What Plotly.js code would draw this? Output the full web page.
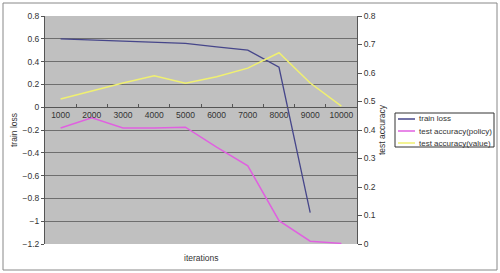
<!DOCTYPE html>
<html>
<head>
<meta charset="utf-8">
<script src="https://cdn.plot.ly/plotly-3.0.1.min.js"></script>
<style>
html,body{margin:0;padding:0;background:#fff;}
#chart{width:500px;height:273px;}
</style>
</head>
<body>
<div id="chart"></div>
<script>
// Data
const iterations = ['1000','2000','3000','4000','5000','6000','7000','8000','9000','10000'];
const trainLoss = [0.60, 0.59, 0.58, 0.57, 0.56, 0.53, 0.50, 0.35, -0.925, null];
const testAccPolicy = [0.407, 0.443, 0.407, 0.407, 0.41, 0.34, 0.274, 0.082, 0.01, 0.002];
const testAccValue = [0.509, 0.537, 0.565, 0.59, 0.564, 0.587, 0.617, 0.671, 0.565, 0.484];
const seriesNames = ['train loss', 'test accuracy(policy)', 'test accuracy(value)'];
const seriesColors = ['#46468a', '#e060e0', '#f0f070'];

const FONT = 'Liberation Sans, Arial, sans-serif';
const TXT = '#333';
const W = 500, H = 273;
const L = 45, R = 143, T = 16, B = 29;
const pw = W - L - R, ph = H - T - B;
function px(x){ return (x - L) / pw; }
function py(y){ return (H - B - y) / ph; }

const traces = [
  {x: iterations, y: trainLoss, name: seriesNames[0], type: 'scatter', mode: 'lines',
   line: {color: seriesColors[0], width: 1.3}, yaxis: 'y', connectgaps: false},
  {x: iterations, y: testAccPolicy, name: seriesNames[1], type: 'scatter', mode: 'lines',
   line: {color: seriesColors[1], width: 1.5}, yaxis: 'y2'},
  {x: iterations, y: testAccValue, name: seriesNames[2], type: 'scatter', mode: 'lines',
   line: {color: seriesColors[2], width: 1.5}, yaxis: 'y2'}
];

// Legend drawn as box + sample lines + labels (compact spacing like the reference)
const legendRows = [119, 131, 143];
const shapes = [
  {type: 'rect', xref: 'paper', yref: 'paper',
   x0: px(3), x1: px(497), y0: py(270), y1: py(3),
   line: {color: '#888', width: 1}, fillcolor: 'rgba(0,0,0,0)', layer: 'below'},
  {type: 'rect', xref: 'paper', yref: 'paper',
   x0: px(395), x1: px(494), y0: py(147), y1: py(113),
   line: {color: '#333', width: 1}, fillcolor: '#ffffff'}
];
const annotations = [
  {xref: 'paper', yref: 'paper', x: px(201), y: py(258), text: 'iterations',
   showarrow: false, xanchor: 'center', yanchor: 'middle',
   font: {family: FONT, size: 8.5, color: TXT}}
];
seriesNames.forEach((n, i) => {
  shapes.push({type: 'line', xref: 'paper', yref: 'paper',
    x0: px(398), x1: px(415), y0: py(legendRows[i]), y1: py(legendRows[i]),
    line: {color: seriesColors[i], width: 1.5}});
  annotations.push({xref: 'paper', yref: 'paper', x: px(417), y: py(legendRows[i]),
    text: n, showarrow: false, xanchor: 'left', yanchor: 'middle',
    font: {family: FONT, size: 8, color: TXT}});
});

const layout = {
  width: W, height: H,
  margin: {l: L, r: R, t: T, b: B, pad: 0},
  paper_bgcolor: '#ffffff',
  plot_bgcolor: '#c0c0c0',
  font: {family: FONT, size: 8.5, color: TXT},
  showlegend: false,
  xaxis: {
    type: 'category',
    anchor: 'free', position: 0.6,
    tickson: 'boundaries', ticks: 'inside', ticklen: 3, tickcolor: '#555',
    tickangle: 0,
    showgrid: false, zeroline: false,
    showline: true, linecolor: '#555', linewidth: 1,
    tickfont: {family: FONT, size: 8.5, color: TXT},
    range: [-0.5, 9.5]
  },
  yaxis: {
    range: [-1.2, 0.8], dtick: 0.2, tick0: 0,
    showgrid: true, gridcolor: '#6e6e6e', gridwidth: 1,
    zeroline: false,
    showline: true, linecolor: '#555', linewidth: 1,
    ticks: 'outside', ticklen: 3, tickcolor: '#555',
    tickfont: {family: FONT, size: 8.5, color: TXT},
    title: {text: 'train loss', font: {family: FONT, size: 8.5, color: TXT}, standoff: 3}
  },
  yaxis2: {
    overlaying: 'y', side: 'right', anchor: 'x',
    range: [0, 0.8], dtick: 0.1, tick0: 0,
    showgrid: false, zeroline: false,
    showline: true, linecolor: '#555', linewidth: 1,
    ticks: 'outside', ticklen: 4, tickcolor: '#555',
    tickfont: {family: FONT, size: 8.5, color: TXT},
    title: {text: 'test accuracy', font: {family: FONT, size: 8.5, color: TXT}, standoff: 4}
  },
  shapes: shapes,
  annotations: annotations
};

Plotly.newPlot('chart', traces, layout, {displayModeBar: false, staticPlot: true});
</script>
</body>
</html>
